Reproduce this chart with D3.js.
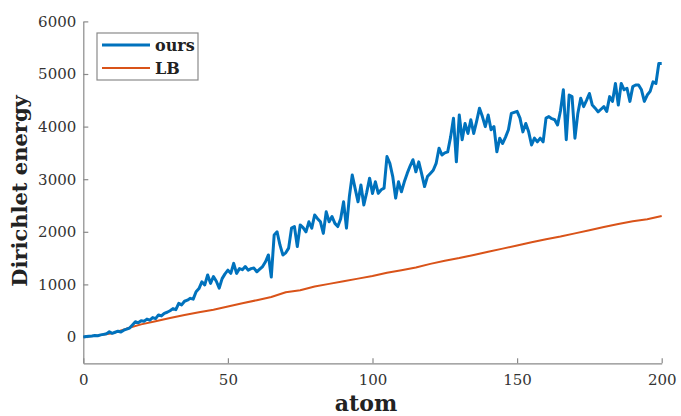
<!DOCTYPE html>
<html>
<head>
<meta charset="utf-8">
<script src="https://cdn.jsdelivr.net/npm/d3@7"></script>
<style>
    body { margin: 0; background: #fff; }
</style>
</head>
<body>
<script>

// atoms 0..200
var ours = [
    0, 10, 15, 20, 30, 25, 40, 50, 60, 100,
    70, 90, 110, 95, 130, 150, 170, 230, 290, 270,
    310, 300, 340, 320, 370, 350, 420, 400, 450, 470,
    500, 540, 520, 640, 610, 680, 700, 735, 720, 860,
    920, 1050, 990, 1180, 1020, 1150, 1060, 930, 1110, 1200,
    1270, 1210, 1400, 1210, 1300, 1280, 1340, 1270, 1300, 1310,
    1240, 1290, 1340, 1430, 1560, 1140, 1940, 2000, 1750, 1560,
    1600, 1690, 2070, 2100, 1720, 2130, 2080, 2000, 2190, 2070,
    2320, 2250, 2190, 1970, 2380, 2190, 2290, 2160, 2100, 2250,
    2570, 2070, 2670, 3080, 2820, 2570, 2890, 2510, 2750, 3020,
    2730, 2950, 2730, 2800, 2830, 3430, 3300, 3050, 2640, 2950,
    2760, 2950, 3110, 3250, 3370, 3140, 3330, 3100, 2860, 3050,
    3110, 3170, 3300, 3590, 3460, 3500, 3520, 3800, 4160, 3330,
    4220, 3750, 4060, 3870, 4130, 3870, 4100, 4350, 4190, 4000,
    4220, 3940, 4000, 3520, 3780, 3680, 3800, 3940, 4250, 4270,
    4290, 4160, 3900, 4060, 3900, 3650, 3780, 3710, 3780, 3710,
    4160, 4190, 4150, 4130, 4030, 4300, 4700, 3750, 4600, 4570,
    3780, 4250, 4540, 4380, 4500, 4630, 4410, 4350, 4280, 4330,
    4380, 4290, 4570, 4480, 4820, 4410, 4820, 4700, 4730, 4480,
    4760, 4790, 4790, 4700, 4480, 4600, 4670, 4850, 4820, 5200,
    5200
];

// LB sampled every 5 atoms
var lbAtoms = d3.range(0, 201, 5);
var lb = [
    0, 30, 70, 160, 240, 300, 360, 420, 470, 520,
    580, 640, 700, 760, 850, 890, 960, 1010, 1060, 1110,
    1160, 1220, 1270, 1320, 1390, 1450, 1500, 1560, 1620, 1680,
    1740, 1800, 1860, 1910, 1970, 2030, 2090, 2150, 2200, 2240,
    2300
];

var xTicks = [0, 50, 100, 150, 200];
var yTicks = [0, 1000, 2000, 3000, 4000, 5000, 6000];
var seriesNames = ["ours", "LB"];
var seriesColors = ["#0072BD", "#D95319"];

var W = 681, H = 416;
var axisColor = "#8a8a8a";
var labelColor = "#333";
var serif = "'DejaVu Serif', serif";

var svg = d3.select("body")
    .append("svg")
        .attr("width", W)
        .attr("height", H);

var x = d3.scaleLinear().domain([0, 200]).range([83.3, 661.7]);
var y = d3.scaleLinear().domain([-500, 6000]).range([363.3, 21.4]);

// axes
var xAxis = svg.append("g")
    .attr("transform", "translate(0," + y(-500) + ")")
    .call(d3.axisBottom(x)
        .tickValues(xTicks)
        .tickFormat(d3.format("d"))
        .tickSizeInner(-5)
        .tickSizeOuter(0)
        .tickPadding(11));

var yAxis = svg.append("g")
    .attr("transform", "translate(" + x(0) + ",0)")
    .call(d3.axisLeft(y)
        .tickValues(yTicks)
        .tickFormat(d3.format("d"))
        .tickSizeInner(-5)
        .tickSizeOuter(0)
        .tickPadding(7));

svg.selectAll("g")
    .attr("font-family", serif)
    .attr("font-size", 15);

svg.selectAll(".domain, .tick line")
    .attr("stroke", axisColor)
    .attr("stroke-width", 1.2);

svg.selectAll(".tick text")
    .attr("fill", labelColor);

// lines
var lineOurs = d3.line()
    .x(function (d, i) { return x(i); })
    .y(function (d) { return y(d); });

var lineLB = d3.line()
    .x(function (d, i) { return x(lbAtoms[i]); })
    .y(function (d) { return y(d); });

svg.append("path")
    .datum(lb)
    .attr("d", lineLB)
    .attr("fill", "none")
    .attr("stroke", seriesColors[1])
    .attr("stroke-width", 2)
    .attr("stroke-linejoin", "round");

svg.append("path")
    .datum(ours)
    .attr("d", lineOurs)
    .attr("fill", "none")
    .attr("stroke", seriesColors[0])
    .attr("stroke-width", 3)
    .attr("stroke-linejoin", "round");

// axis labels
svg.append("text")
    .attr("x", 366)
    .attr("y", 411)
    .attr("text-anchor", "middle")
    .attr("fill", "#222")
    .attr("font-family", serif)
    .attr("font-weight", "bold")
    .attr("font-size", 22)
    .text("atom");

svg.append("text")
    .attr("transform", "translate(27,191) rotate(-90)")
    .attr("text-anchor", "middle")
    .attr("fill", "#222")
    .attr("font-family", serif)
    .attr("font-weight", "bold")
    .attr("font-size", 21)
    .text("Dirichlet energy");

// legend
var legend = svg.append("g");

legend.append("rect")
    .attr("x", 97)
    .attr("y", 33)
    .attr("width", 101)
    .attr("height", 47)
    .attr("fill", "#fff")
    .attr("stroke", axisColor)
    .attr("stroke-width", 1.2);

seriesNames.forEach(function (name, i) {
    var ly = 45 + i * 23;
    legend.append("line")
        .attr("x1", 102)
        .attr("x2", 150)
        .attr("y1", ly)
        .attr("y2", ly)
        .attr("stroke", seriesColors[i])
        .attr("stroke-width", i == 0 ? 3 : 2);
    legend.append("text")
        .attr("x", 155)
        .attr("y", ly + 6)
        .attr("fill", "#222")
        .attr("font-family", serif)
        .attr("font-weight", "bold")
        .attr("font-size", 16)
        .text(name);
});

</script>
</body>
</html>
